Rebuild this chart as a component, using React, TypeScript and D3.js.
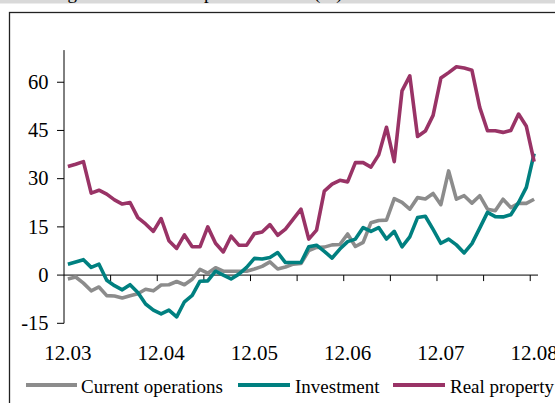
import React from "react";
import * as d3 from "d3";

const months: string[] = Array.from({ length: 61 }, (_, i) => `m${i}`);
const tickLabels: string[] = ["12.03", "12.04", "12.05", "12.06", "12.07", "12.08"];
const yTicks: number[] = [-15, 0, 15, 30, 45, 60];

const currentOperations: number[] = [
  -1.2, -0.6, -2.5, -4.9, -3.7, -6.4, -6.5, -7.1, -6.4, -5.8,
  -4.4, -4.9, -3.1, -3.0, -2.0, -3.0, -1.3, 1.8, 0.6, 2.3,
  1.2, 1.2, 1.2, 1.2, 1.9, 2.7, 4.1, 1.9, 2.5, 3.4,
  3.6, 7.6, 8.6, 8.7, 9.4, 9.5, 12.8, 8.9, 10.2, 16.3,
  17.0, 17.1, 23.8, 22.6, 20.5, 24.1, 23.7, 25.4, 21.9, 32.4,
  23.6, 24.7, 22.4, 24.7, 20.5, 20.0, 23.6, 21.0, 22.3, 22.3,
  23.6,
];
const investment: number[] = [
  3.4, 4.1, 4.8, 2.4, 3.4, -1.6, -3.3, -4.6, -3.0, -5.4,
  -9.0, -10.9, -12.1, -10.9, -13.0, -8.3, -6.3, -1.9, -1.8, 1.2,
  0.0, -1.2, 0.3, 2.4, 5.2, 5.0, 5.5, 7.0, 3.9, 3.9,
  3.9, 8.8, 9.3, 7.4, 5.3, 8.1, 10.4, 11.2, 14.8, 13.6,
  14.8, 11.2, 13.6, 8.8, 11.9, 17.9, 18.3, 14.2, 9.9, 11.2,
  9.4, 6.9, 9.8, 14.6, 19.5, 18.2, 18.1, 18.8, 22.6, 27.3,
  37.8,
];
const realProperty: number[] = [
  33.8, 34.5, 35.3, 25.5, 26.4, 25.2, 23.4, 22.1, 22.6, 17.9,
  15.9, 13.6, 17.6, 10.7, 8.3, 12.5, 8.8, 8.8, 15.0, 9.9,
  7.2, 12.1, 9.3, 9.3, 12.9, 13.4, 15.7, 12.4, 14.3, 17.4,
  20.5, 11.2, 14.0, 26.1, 28.3, 29.5, 29.0, 35.0, 35.0, 33.6,
  37.4, 46.0, 35.3, 57.3, 62.0, 43.1, 44.8, 49.7, 61.3, 63.0,
  64.8, 64.4, 63.7, 52.2, 44.9, 44.9, 44.4, 45.0, 50.1, 46.3,
  35.3,
];

const seriesNames: string[] = ["Current operations", "Investment", "Real property"];
const seriesColors: string[] = ["#8c8c8c", "#008080", "#993366"];

export default function App() {
  const W = 555;
  const H = 403;
  const x = d3.scaleBand<string>().domain(months).range([64, 538]).padding(0);
  const bw = x.bandwidth();
  const cx = (i: number) => (x(months[i]) as number) + bw / 2;
  const y = d3.scaleLinear().domain([-15, 70]).range([323.3, 50.1]);

  const line = d3
    .line<number>()
    .x((_, i) => cx(i))
    .y((d) => y(d));

  const all = [currentOperations, investment, realProperty];
  const font = "'Liberation Serif', 'Times New Roman', serif";

  const boundaryTicks = d3.range(6, 61, 6);
  const legendItems = [
    { x1: 26, x2: 77, tx: 81 },
    { x1: 238, x2: 290, tx: 295 },
    { x1: 393, x2: 445, tx: 450 },
  ];

  return (
    <svg
      width={W}
      height={H}
      style={{ position: "absolute", left: 0, top: 0, background: "#fff" }}
      fontFamily={font}
    >
      <rect x={0} y={0} width={W} height={3.5} fill="#d9d9d9" />
      <text y={-1.2} fontSize={19} fill="#000">
        <tspan x={77} textAnchor="end">Lending</tspan>
        <tspan x={203} textAnchor="end">to com</tspan>
        <tspan x={204}>panies</tspan>
        <tspan x={314}>(%)</tspan>
      </text>
      <rect x={9.5} y={12.5} width={700} height={500} fill="none" stroke="#222" strokeWidth={1.3} />

      {/* y axis */}
      <line x1={64} x2={64} y1={y(70)} y2={y(-15)} stroke="#000" strokeWidth={1} />
      {yTicks.map((t) => (
        <g key={t}>
          <line x1={57} x2={64} y1={y(t)} y2={y(t)} stroke="#000" strokeWidth={1} />
          <text x={48.5} y={y(t)} dy={6.8} textAnchor="end" fontSize={20.5} fill="#000">
            {t}
          </text>
        </g>
      ))}

      {/* x axis */}
      <line x1={64} x2={538} y1={y(0)} y2={y(0)} stroke="#000" strokeWidth={1} />
      {boundaryTicks.map((b) => {
        const bx = (x(months[b - 1]) as number) + bw;
        return <line key={b} x1={bx} x2={bx} y1={y(0)} y2={y(0) + 6} stroke="#000" strokeWidth={1} />;
      })}
      {tickLabels.map((lab, k) => (
        <text key={lab} x={cx(k * 12)} y={360} textAnchor="middle" fontSize={21} fill="#000">
          {lab}
        </text>
      ))}

      {/* series */}
      {all.map((s, k) => (
        <path
          key={seriesNames[k]}
          d={line(s) || ""}
          fill="none"
          stroke={seriesColors[k]}
          strokeWidth={3.6}
          strokeLinejoin="round"
          strokeLinecap="butt"
        />
      ))}

      {/* legend */}
      {seriesNames.map((n, k) => (
        <g key={n}>
          <line
            x1={legendItems[k].x1}
            x2={legendItems[k].x2}
            y1={385}
            y2={385}
            stroke={seriesColors[k]}
            strokeWidth={4}
          />
          <text x={legendItems[k].tx} y={392.5} fontSize={19} fill="#000">
            {n}
          </text>
        </g>
      ))}
    </svg>
  );
}
